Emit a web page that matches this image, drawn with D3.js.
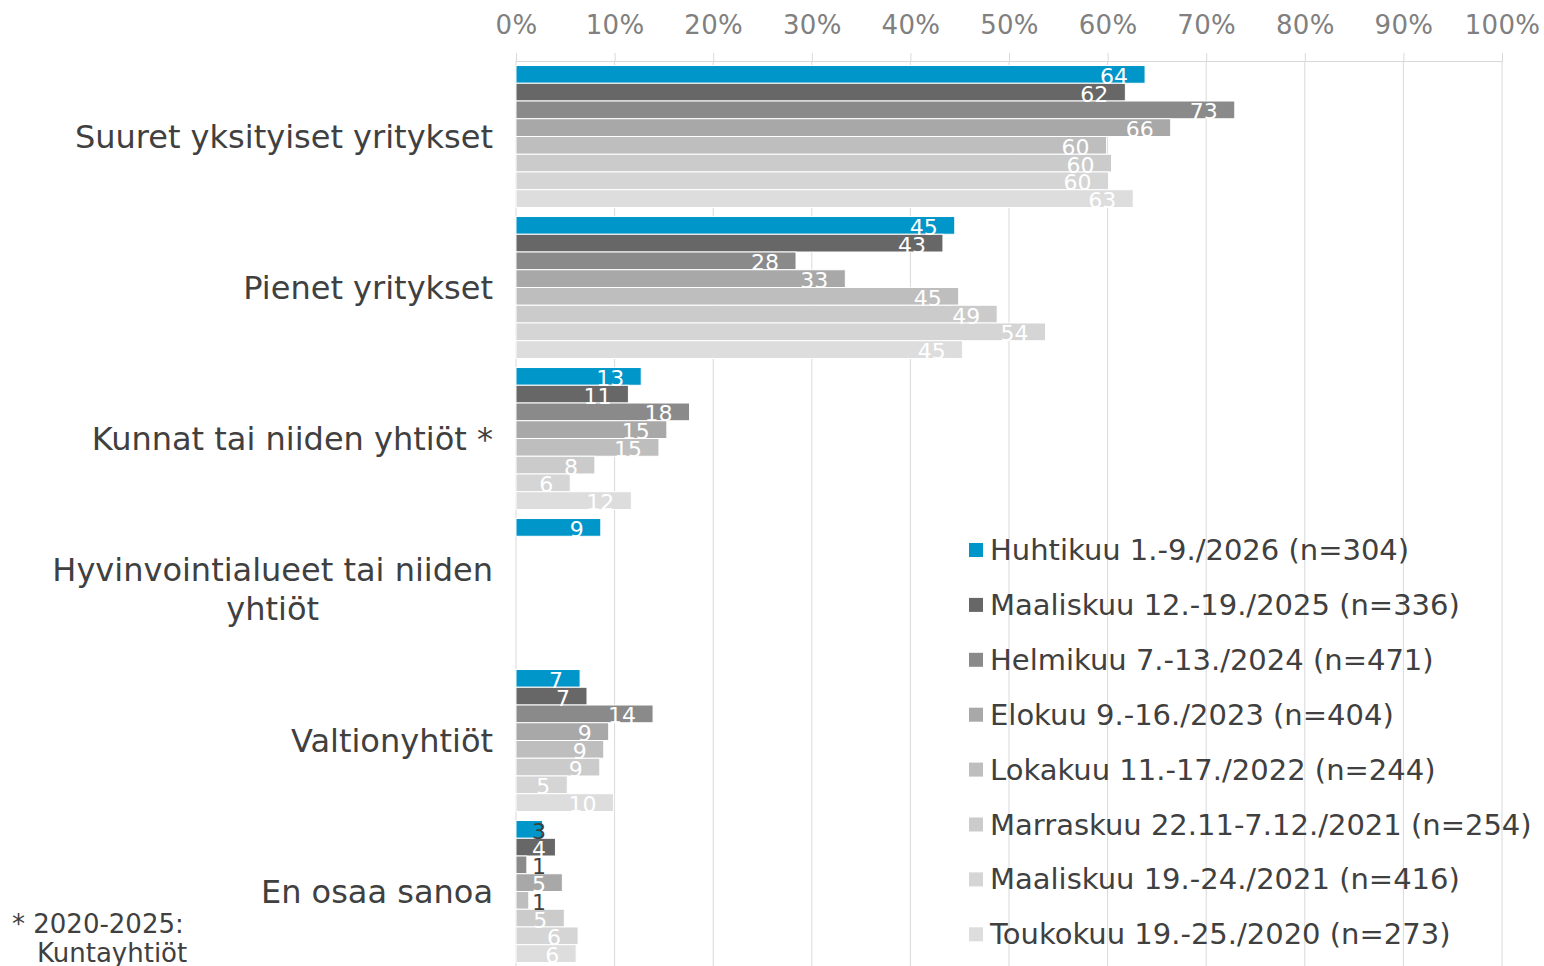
<!DOCTYPE html>
<html>
<head>
  <meta charset="utf-8" />
  <script src="https://d3js.org/d3.v7.min.js"></script>
  <style>
  body { margin: 0; background: #fff; }
  text { font-family: "DejaVu Sans", Verdana, sans-serif; }
  </style>
</head>
<body>
  <script>
  var categories = ["Suuret yksityiset yritykset", "Pienet yritykset", "Kunnat tai niiden yhtiöt *",
    "Hyvinvointialueet tai niiden|yhtiöt", "Valtionyhtiöt", "En osaa sanoa"];

  var seriesNames = ["Huhtikuu 1.-9./2026 (n=304)", "Maaliskuu 12.-19./2025 (n=336)", "Helmikuu 7.-13./2024 (n=471)",
    "Elokuu 9.-16./2023 (n=404)", "Lokakuu 11.-17./2022 (n=244)", "Marraskuu 22.11-7.12./2021 (n=254)",
    "Maaliskuu 19.-24./2021 (n=416)", "Toukokuu 19.-25./2020 (n=273)"];

  var colors = ["#0096c9", "#676767", "#8a8a8a", "#a8a8a8", "#bebebe", "#cbcbcb", "#d5d5d5", "#dddddd"];

  // one array per series, in category order (null = not asked)
  var s2026 = [63.8, 44.5, 12.7, 8.6, 6.5, 2.7];
  var s2025 = [61.8, 43.3, 11.4, null, 7.2, 4.0];
  var s2024 = [72.9, 28.4, 17.6, null, 13.9, 1.1];
  var s2023 = [66.4, 33.4, 15.3, null, 9.4, 4.7];
  var s2022 = [59.9, 44.9, 14.5, null, 8.9, 1.3];
  var s2021b = [60.4, 48.8, 8.0, null, 8.5, 4.9];
  var s2021a = [60.1, 53.7, 5.5, null, 5.2, 6.3];
  var s2020 = [62.6, 45.3, 11.7, null, 9.9, 6.1];
  var seriesValues = [s2026, s2025, s2024, s2023, s2022, s2021b, s2021a, s2020];

  var ticks = [0, 10, 20, 30, 40, 50, 60, 70, 80, 90, 100];

  var W = 1544, H = 966;
  var svg = d3.select("body").append("svg")
    .attr("width", W)
    .attr("height", H);

  var x = d3.scaleLinear().domain([0, 100]).range([516, 1502]);
  var y = d3.scaleBand().domain(categories).range([61, 967]).paddingInner(0.06).paddingOuter(0.03);
  var ys = d3.scaleBand().domain(d3.range(seriesNames.length)).range([0, y.bandwidth()]);

  // gridlines
  svg.append("g").selectAll("line")
    .data(ticks.slice(1))
    .join("line")
    .attr("x1", d => x(d)).attr("x2", d => x(d))
    .attr("y1", 61).attr("y2", H)
    .attr("stroke", "#d9d9d9").attr("stroke-width", 1);

  // value axis on top
  var axis = svg.append("g")
    .attr("transform", "translate(0,61)")
    .call(d3.axisTop(x).tickValues(ticks).tickFormat(d => d + "%").tickSize(8).tickPadding(19));
  axis.select(".domain").attr("stroke", "#d9d9d9");
  axis.selectAll(".tick line").attr("stroke", "#d9d9d9");
  axis.selectAll(".tick text")
    .attr("fill", "#808080")
    .style("font-size", "26px")
    .style("font-family", "'DejaVu Sans', Verdana, sans-serif")
    .style("letter-spacing", "0.3px");

  // category axis line
  svg.append("line")
    .attr("x1", x(0)).attr("x2", x(0))
    .attr("y1", 61).attr("y2", H)
    .attr("stroke", "#d9d9d9");

  // bars
  var rows = [];
  seriesValues.forEach(function (vals, si) {
    vals.forEach(function (v, ci) {
      if (v != null) rows.push({ s: si, c: categories[ci], v: v });
    });
  });

  svg.append("g").selectAll("rect")
    .data(rows)
    .join("rect")
    .attr("x", x(0))
    .attr("y", d => y(d.c) + ys(d.s))
    .attr("width", d => x(d.v) - x(0))
    .attr("height", ys.bandwidth())
    .attr("fill", d => colors[d.s])
    .attr("stroke", "#fff")
    .attr("stroke-width", 1);

  // data labels
  var labelX = d => Math.max(x(d.v) - 17, x(0) + 30);
  svg.append("g").selectAll("text")
    .data(rows)
    .join("text")
    .attr("x", labelX)
    .attr("y", d => y(d.c) + ys(d.s) + ys.bandwidth() / 2 + 2)
    .attr("text-anchor", "end")
    .attr("dominant-baseline", "central")
    .attr("fill", d => (labelX(d) > x(d.v) ? "#404040" : "#fff"))
    .style("font-size", "22px")
    .text(d => Math.round(d.v));

  // category labels
  var cat = svg.append("g").selectAll("text")
    .data(categories)
    .join("text")
    .attr("fill", "#404040")
    .style("font-size", "32px")
    .attr("text-anchor", "end");

  cat.each(function (d) {
    var t = d3.select(this);
    var lines = d.split("|");
    var cy = y(d) + y.bandwidth() / 2;
    if (lines.length === 1) {
      t.attr("x", 493).attr("y", cy).attr("dominant-baseline", "central").text(d);
    } else {
      t.attr("x", 493).attr("y", cy - 20).attr("dominant-baseline", "central").text(lines[0]);
      var w = this.getComputedTextLength();
      svg.append("text")
        .attr("x", 493 - w / 2).attr("y", cy + 19)
        .attr("text-anchor", "middle").attr("dominant-baseline", "central")
        .attr("fill", "#404040").style("font-size", "32px")
        .text(lines[1]);
    }
  });

  // legend
  var leg = svg.append("g").selectAll("g")
    .data(seriesNames)
    .join("g")
    .attr("transform", (d, i) => "translate(969," + (550 + i * 54.9) + ")");
  leg.append("rect")
    .attr("x", 0).attr("y", -7)
    .attr("width", 14).attr("height", 14)
    .attr("fill", (d, i) => colors[i]);
  leg.append("text")
    .attr("x", 21).attr("y", 0)
    .attr("dominant-baseline", "central")
    .attr("fill", "#404040")
    .style("font-size", "29px")
    .text(d => d);

  // footnote
  var foot = svg.append("text").attr("fill", "#404040").style("font-size", "26px");
  foot.append("tspan").attr("x", 12).attr("y", 933).text("* 2020-2025:");
  foot.append("tspan").attr("x", 37).attr("y", 962).text("Kuntayhtiöt");
  </script>
</body>
</html>
